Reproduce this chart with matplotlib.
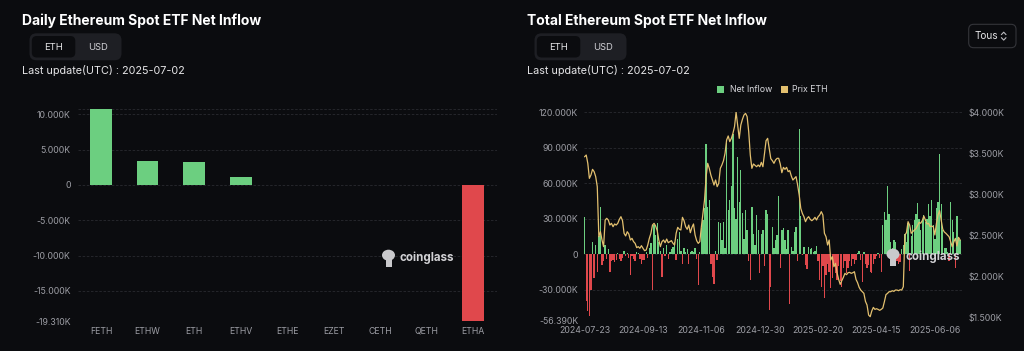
import matplotlib
matplotlib.use("Agg")
import matplotlib.pyplot as plt
from matplotlib.patches import FancyBboxPatch, Rectangle, Ellipse
import numpy as np

# ---- data (thousands of ETH, price in USD) ----
etfs = ["FETH", "ETHW", "ETH", "ETHV", "ETHE", "EZET", "CETH", "QETH", "ETHA"]
daily_flow = [10.72, 3.40, 3.30, 1.13, 0, 0, 0, 0, -19.31]

date_ticks = ["2024-07-23", "2024-09-13", "2024-11-06", "2024-12-30",
              "2025-02-20", "2025-04-15", "2025-06-06"]

net_inflow = [
    31, -40, -48, -52, -30, 10, -20, 8, -15, 15,
    40, -9, -6, 8, -4, 4, -15, -6, -5, -7,
    -5, 1, -4, -6, -3, 3, -2, 1, -3, -18,
    -2, -4, -6, 2, 1, -4, -8, -5, -5, 2,
    -3, 5, 9, -30, 25, 16, 26, 10, 3, -19,
    5, -2, 8, -4, 2, 4, 6, 10, -5, 13,
    19, 3, -8, 5, 2, 4, -8, 2, 3, 2,
    5, -4, -26, 2, 22, 29, 39, 93, 40, 46,
    -8, -19, -25, 3, -5, 27, 26, 12, 27, 5,
    94, 37, 46, 58, 102, 39, 30, 82, 44, 71,
    35, 13, 37, 20, -6, -22, 40, 17, 8, 33,
    20, -16, 17, 20, -10, 37, 34, -47, -28, 23,
    5, 12, 16, 49, -12, 20, 22, 12, 4, 20,
    -42, 6, 3, 19, 23, -6, 106, 32, -1, 6,
    -9, -13, 6, 4, 5, 2, 3, 7, -6, -22,
    -28, -10, -37, -18, -8, -15, -29, -20, -8, -16,
    -22, -10, -23, -28, -12, -6, -16, -12, -6, -10,
    -4, -8, -5, 1, 3, -5, -24, 2, -8, -12,
    -9, -15, -16, -8, -4, -2, 1, -3, -15, 25,
    36, 29, 58, 34, 10, 5, 12, 10, -6, -8,
    -7, 4, 8, 17, 10, 26, -14, 15, 25, 29,
    34, 43, 30, 20, 29, 33, 27, 30, 42, 32,
    46, 25, 13, 39, 44, 85, 42, 20, 5, 5,
    2, -6, 44, 29, 19, -12, 32, 13, 12,
]

eth_price = [
    3460, 3480, 3379, 3196, 3237, 3306, 3278, 3217, 3095, 2486,
    2547, 2446, 2365, 2689, 2710, 2689, 2628, 2649, 2608, 2641,
    2628, 2649, 2697, 2730, 2681, 2527, 2495, 2547, 2519, 2446,
    2466, 2426, 2405, 2353, 2365, 2345, 2377, 2345, 2316, 2324,
    2385, 2466, 2527, 2628, 2649, 2616, 2560, 2446, 2365, 2426,
    2446, 2413, 2458, 2413, 2426, 2438, 2405, 2385, 2527, 2600,
    2576, 2568, 2722, 2681, 2608, 2576, 2628, 2535, 2600, 2641,
    2507, 2438, 2405, 2426, 2608, 2770, 2933, 3217, 3379, 3318,
    3237, 3176, 3115, 3176, 3095, 3136, 3318, 3359, 3411, 3501,
    3663, 3712, 3643, 3683, 3744, 3825, 4000, 3845, 3683, 3845,
    3914, 3967, 3987, 3947, 3764, 3480, 3318, 3371, 3355, 3338,
    3359, 3338, 3391, 3338, 3501, 3655, 3683, 3562, 3436, 3411,
    3379, 3420, 3440, 3440, 3371, 3265, 3330, 3306, 3330, 3278,
    3290, 3225, 3176, 3196, 3217, 3115, 2994, 2831, 2770, 2730,
    2669, 2710, 2730, 2697, 2681, 2697, 2722, 2689, 2730, 2750,
    2791, 2750, 2527, 2486, 2385, 2446, 2203, 2243, 2121, 2162,
    2048, 1967, 1906, 1951, 1991, 2040, 2024, 2048, 2052, 2040,
    2048, 2060, 1967, 1927, 1870, 1837, 1817, 1797, 1699, 1655,
    1533, 1513, 1582, 1626, 1602, 1610, 1602, 1590, 1602, 1618,
    1695, 1781, 1797, 1817, 1817, 1829, 1821, 1837, 1837, 1829,
    1841, 1837, 1878, 2507, 2535, 2669, 2628, 2527, 2547, 2568,
    2584, 2620, 2661, 2649, 2681, 2738, 2689, 2641, 2649, 2608,
    2616, 2608, 2507, 2649, 2750, 2803, 2689, 2576, 2543, 2527,
    2507, 2486, 2426, 2365, 2422, 2466, 2373, 2478, 2446,
]

# ---- style ----
BG = "#0b0c0f"
GREEN = "#6ccf80"
RED = "#e0484c"
GOLD = "#e3c06f"
GRID = "#2a2b30"
TICK = "#9d9ea5"
W, H = 1024, 351

plt.rcParams["font.family"] = ["Inter", "DejaVu Sans"]

fig = plt.figure(figsize=(W / 100, H / 100), dpi=100, facecolor=BG)


def box(x0, y0, x1, y1):
    return [x0 / W, 1 - y1 / H, (x1 - x0) / W, (y1 - y0) / H]


def k_label(v):
    return "0" if v == 0 else f"{v:.3f}K"


def style_axes(ax):
    ax.set_facecolor(BG)
    for s in ax.spines.values():
        s.set_visible(False)
    ax.tick_params(length=0, labelsize=6.3, labelcolor=TICK)


# ---- left: daily inflow per ETF ----
ax1 = fig.add_axes(box(77.7, 109.3, 496.6, 321.3))
style_axes(ax1)
x = np.arange(len(etfs))
ax1.bar(x, daily_flow, width=0.47,
        color=[GREEN if v >= 0 else RED for v in daily_flow], zorder=2)
ax1.set_xlim(-0.5, 8.5)
ax1.set_ylim(-19.31, 10.72)
yt1 = [10, 5, 0, -5, -10, -15, -19.31]
ax1.set_yticks(yt1)
ax1.set_yticklabels([k_label(v) for v in yt1])
for v in yt1 + [10.72]:
    ax1.axhline(v, color=GRID, lw=0.6, ls=(0, (3, 2)), zorder=0)
ax1.set_xticks(x)
ax1.set_xticklabels(etfs)
ax1.tick_params(axis="y", pad=5)
ax1.tick_params(axis="x", pad=4)

# ---- right: total inflow + ETH price ----
ax2 = fig.add_axes(box(583.7, 112.3, 962, 320.7))
style_axes(ax2)
idx = np.arange(len(net_inflow))
ax2.bar(idx, net_inflow, width=0.85, linewidth=0,
        color=[GREEN if v >= 0 else RED for v in net_inflow], zorder=2)
ax2.set_xlim(-0.6, 239.2)
ax2.set_ylim(-56.39, 120)
yt2 = [120, 90, 60, 30, 0, -30, -56.39]
ax2.set_yticks(yt2)
ax2.set_yticklabels([k_label(v) for v in yt2])
for v in yt2:
    ax2.axhline(v, color=GRID, lw=0.6, ls=(0, (3, 2)), zorder=0)
ax2.set_xticks(range(0, 37 * len(date_ticks), 37))
ax2.set_xticklabels(date_ticks)
ax2.tick_params(axis="y", pad=4)
ax2.tick_params(axis="x", pad=4)

ax3 = ax2.twinx()
for s in ax3.spines.values():
    s.set_visible(False)
ax3.plot(idx, eth_price, color=GOLD, lw=0.9, zorder=3)
ax3.set_ylim(1464, 4000)
yt3 = [1500, 2000, 2500, 3000, 3500, 4000]
ax3.set_yticks(yt3)
ax3.set_yticklabels([f"${v / 1000:.3f}K" for v in yt3])
ax3.tick_params(length=0, labelsize=6.3, labelcolor=TICK, pad=5)

# ---- overlay: titles, toggles, legend, watermark ----
ov = fig.add_axes([0, 0, 1, 1], zorder=10)
ov.set_xlim(0, W)
ov.set_ylim(H, 0)
ov.axis("off")
ov.patch.set_alpha(0)

for x0, title in [(22, "Daily Ethereum Spot ETF Net Inflow"),
                  (527, "Total Ethereum Spot ETF Net Inflow")]:
    ov.text(x0, 20.5, title, color="white", fontsize=10, fontweight="bold",
            ha="left", va="center")
    ov.text(x0, 70.7, "Last update(UTC) : 2025-07-02", color="#e6e6e8",
            fontsize=7.8, ha="left", va="center")
    bx = x0 + 7.5
    ov.add_patch(FancyBboxPatch((bx, 33.3), 92, 27, boxstyle="round,pad=0,rounding_size=7",
                                fc="#1e1f24", ec="none"))
    ov.add_patch(FancyBboxPatch((bx + 2.3, 36), 43.5, 21.5, boxstyle="round,pad=0,rounding_size=5",
                                fc=BG, ec="none"))
    ov.text(bx + 24, 47, "ETH", color="#e8e8ea", fontsize=6.8, ha="center", va="center")
    ov.text(bx + 68.5, 47, "USD", color="#d0d0d5", fontsize=6.8, ha="center", va="center")

# legend
ov.add_patch(Rectangle((717, 85.7), 7, 7, fc=GREEN, ec="none"))
ov.text(730, 89.2, "Net Inflow", color="#d8d8dc", fontsize=6.3, ha="left", va="center")
ov.add_patch(Rectangle((781, 85.7), 7, 7, fc=GOLD, ec="none"))
ov.text(792.5, 89.2, "Prix ETH", color="#d8d8dc", fontsize=6.3, ha="left", va="center")

# "Tous" selector
ov.add_patch(FancyBboxPatch((968.7, 24.3), 47.3, 23.4, boxstyle="round,pad=0,rounding_size=5",
                            fc=BG, ec="#34353a", lw=0.8))
ov.text(974.5, 36, "Tous", color="#e6e6e8", fontsize=7.2, ha="left", va="center")
ov.plot([1001.5, 1003.7, 1005.9], [34.5, 32.2, 34.5], color="#bdbdc2", lw=0.8)
ov.plot([1001.5, 1003.7, 1005.9], [37.8, 40.1, 37.8], color="#bdbdc2", lw=0.8)

# coinglass watermarks
for ix, tx, ty in [(388.5, 400, 257.7), (893, 905, 256.7)]:
    ov.add_patch(Ellipse((ix, ty - 2.5), 13, 11, fc="#c9c9cc", ec="none"))
    ov.add_patch(Rectangle((ix - 3, ty + 1), 6, 8, fc="#c9c9cc", ec="none"))
    ov.text(tx, ty, "coinglass", color="#d2d2d5", fontsize=8.3, fontweight="bold",
            ha="left", va="center")

fig.savefig("out.png", dpi=100, facecolor=BG)
